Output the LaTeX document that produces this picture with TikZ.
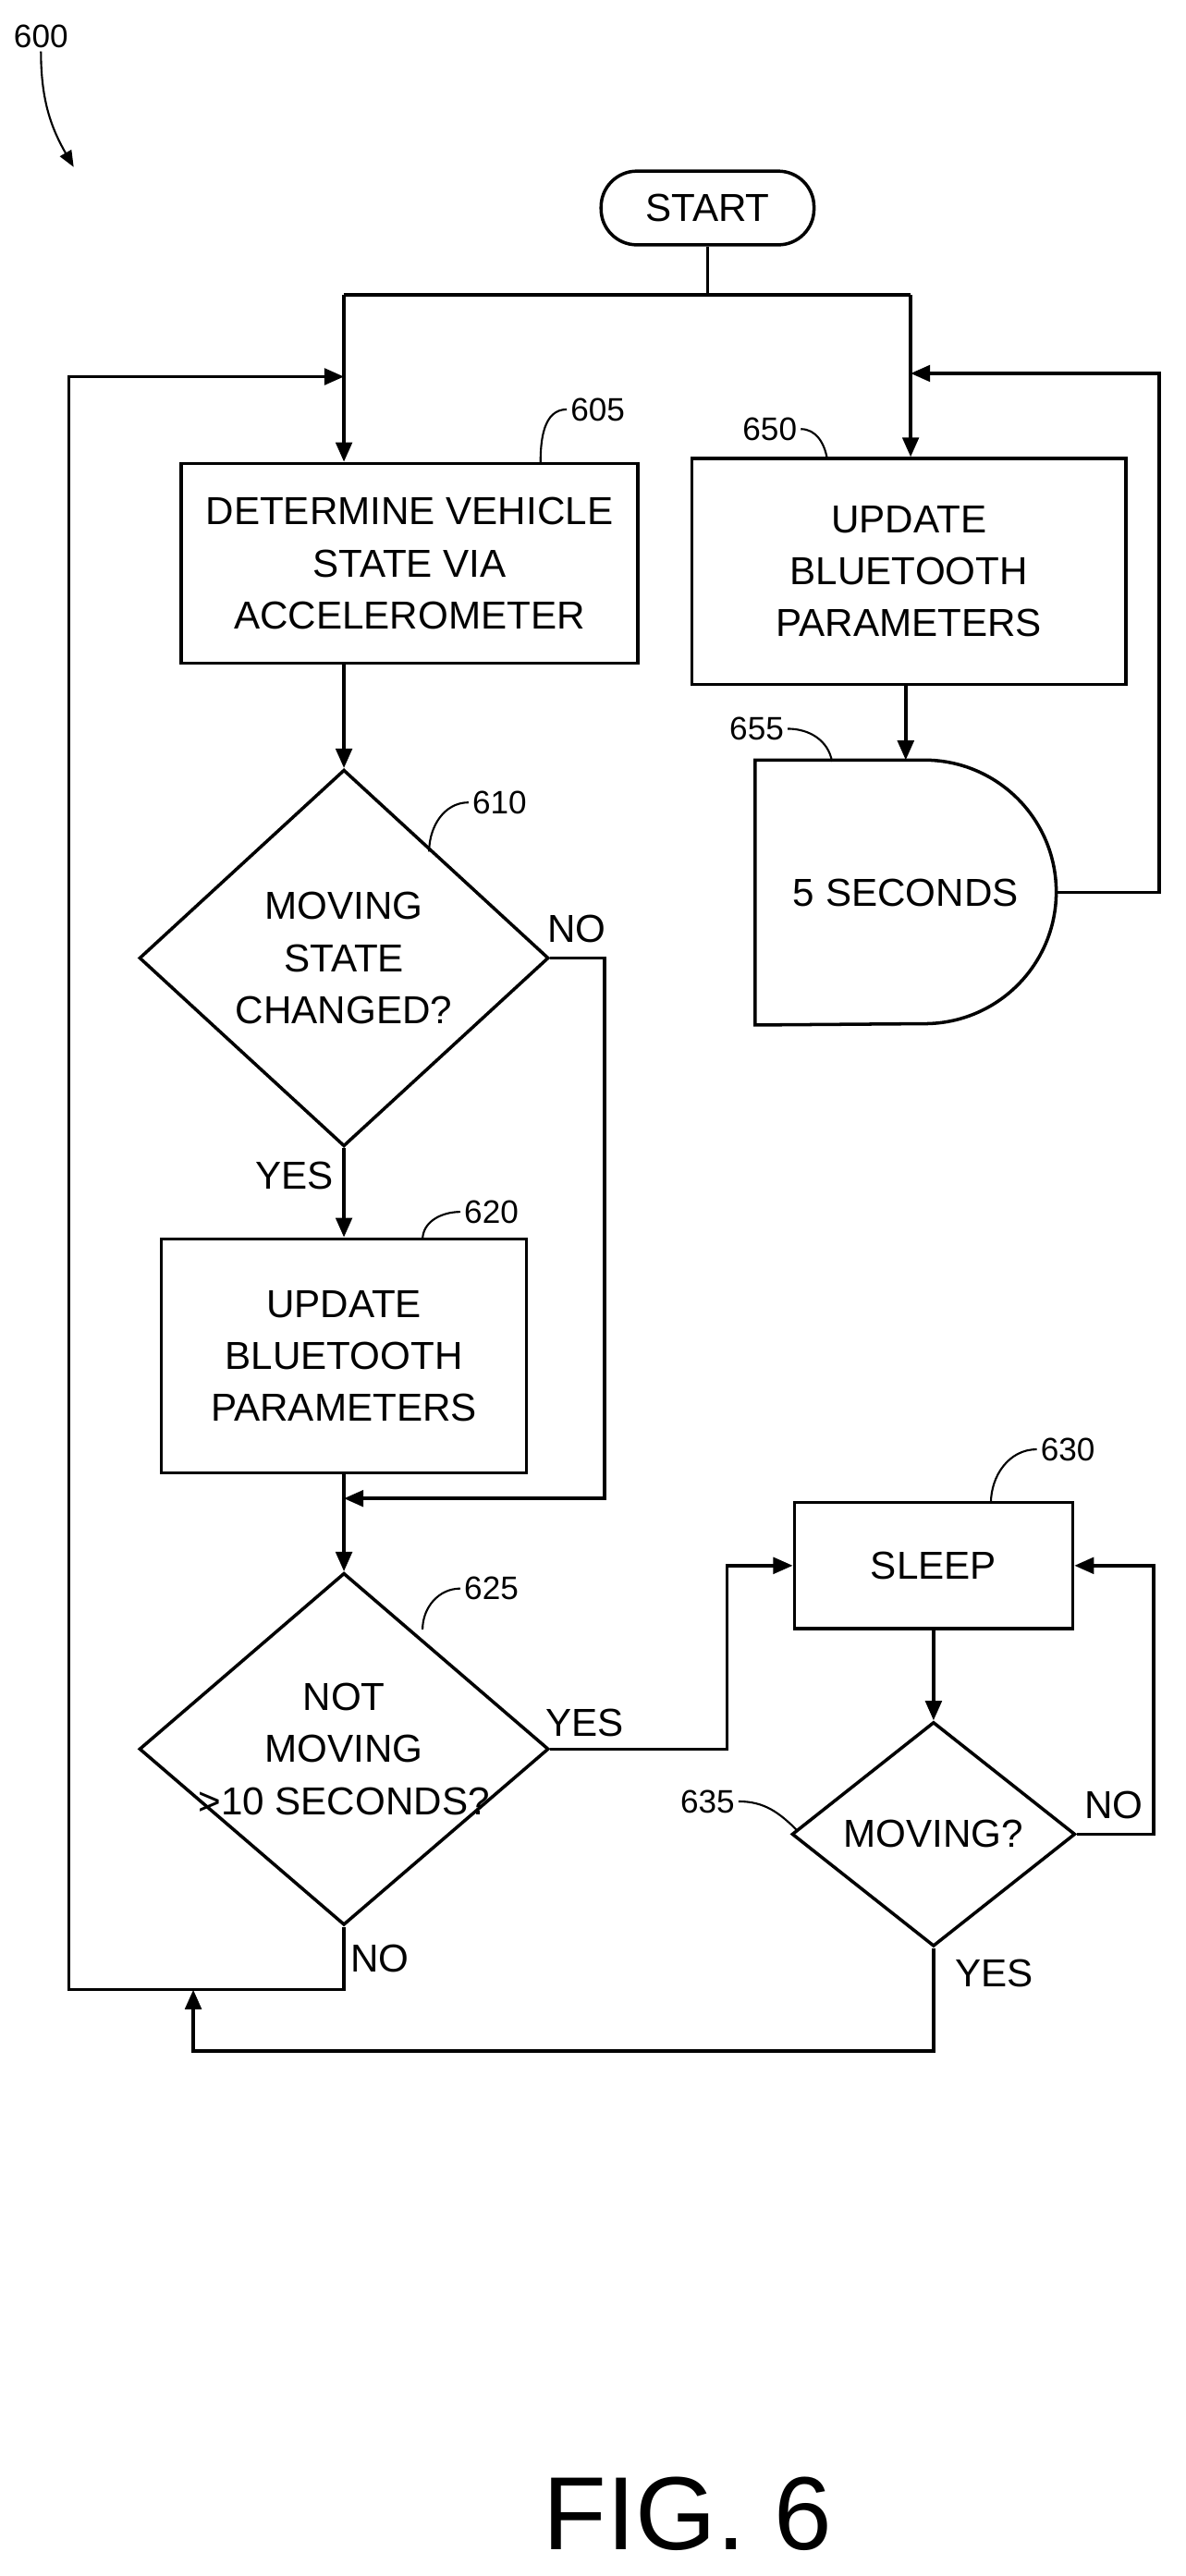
\documentclass[tikz,border=0pt]{standalone}
\usepackage{fontspec}
\setmainfont{Liberation Sans}
\usetikzlibrary{positioning,shapes.geometric,arrows.meta}
\tikzset{
  every node/.style={font=\fontsize{12}{16}\selectfont, align=center},
  box/.style={draw, line width=1pt, inner sep=0pt},
  dia/.style={draw, diamond, line width=1pt, inner sep=0pt},
  flow/.style={line width=1pt},
  arr/.style={flow, -{Triangle[length=6pt,width=5pt]}},
  refnum/.style={font=\fontsize{10}{12}\selectfont, inner sep=1pt},
  tick/.style={line width=0.6pt}
}
\begin{document}
\begin{tikzpicture}[x=0.01772cm, y=-0.01772cm]
  \useasboundingbox (0,0) rectangle (724,1573);

  \node[box, rounded corners=11pt, minimum width=130*0.01772cm, minimum height=45*0.01772cm] (Start) at (432,127) {START};
  \node[box, minimum width=279*0.01772cm, minimum height=122*0.01772cm] (Det) at (250,344)
    {DETERMINE VEHICLE\\STATE VIA\\ACCELEROMETER};
  \node[box, minimum width=265*0.01772cm, minimum height=138*0.01772cm] (UpdR) at (555,349)
    {UPDATE\\BLUETOOTH\\PARAMETERS};
  \node[minimum width=183*0.01772cm, minimum height=161*0.01772cm, inner sep=0pt] (Wait) at (553,545) {5 SECONDS};
  \draw[flow] (Wait.south west) -- (Wait.north west) -- ([xshift=-1.426cm]Wait.north east)
    arc[start angle=90, end angle=-90, radius=1.426cm] -- cycle;
  \node[dia, minimum width=250*0.01772cm, minimum height=230*0.01772cm] (Chg) at (210,585) {};
  \node at (Chg) {MOVING\\STATE\\CHANGED?};
  \node[box, minimum width=223*0.01772cm, minimum height=143*0.01772cm] (UpdL) at (210,828)
    {UPDATE\\BLUETOOTH\\PARAMETERS};
  \node[dia, minimum width=250*0.01772cm, minimum height=215*0.01772cm] (Still) at (210,1068) {};
  \node at (Still) {NOT\\MOVING\\>10 SECONDS?};
  \node[box, minimum width=170*0.01772cm, minimum height=77*0.01772cm] (Sleep) at (570,956) {SLEEP};
  \node[dia, minimum width=173*0.01772cm, minimum height=137*0.01772cm] (Mov) at (570,1120) {};
  \node at (Mov) {MOVING?};

  % junction points
  \coordinate (Split) at (432,180);
  \coordinate (SplitL) at (210,180);
  \coordinate (SplitR) at (556,180);
  \coordinate (InL) at (210,230);
  \coordinate (InR) at (556,228);
  \coordinate (InMid) at (210,915);
  \coordinate (LoopTop) at (42,230);
  \coordinate (LoopBot) at (42,1215);
  \coordinate (LoopIn) at (118,1215);

  \draw[flow] (Start) -- (Split);
  \draw[flow] (SplitL) -- (SplitR);
  \draw[arr] (SplitL) -- (SplitL |- Det.north);
  \draw[arr] (SplitR) -- (SplitR |- UpdR.north);
  \draw[arr] (UpdR.south -| Wait.north) -- (Wait.north);
  \draw[arr] (Wait.east) -- ++(63,0) |- (InR);
  \draw[arr] (Chg.north |- Det.south) -- (Chg.north);
  \draw[arr] (Chg.south) -- (UpdL.north);
  \draw[arr] (Chg.east) -- ++(33,0) |- (InMid);
  \draw[arr] (UpdL.south) -- (Still.north);
  \draw[arr] (Still.east) -- ++(108,0) |- (Sleep.west);
  \draw[arr] (Sleep) -- (Mov);
  \draw[arr] (Mov.east) -- ++(47,0) |- (Sleep.east);
  \draw[arr] (Mov.south) -- ++(0,63) -| (LoopIn);
  \draw[arr] (Still.south) |- (LoopBot) -- (LoopTop) -- (InL);

  % branch labels
  \node at (352,567) {NO};
  \node at (180,718) {YES};
  \node at (357,1052) {YES};
  \node at (232,1196) {NO};
  \node at (680,1102) {NO};
  \node at (607,1205) {YES};

  % reference numbers
  \node[refnum] (R600) at (25,22) {600};
  \draw[tick, -{Triangle[length=5pt,width=4pt]}] (R600.south) to[out=-90,in=120] (45,102);
  \node[refnum] (R605) at (365,250) {605};
  \draw[tick] (330,283) to[out=90,in=180] (R605.west);
  \node[refnum] (R650) at (470,262) {650};
  \draw[tick] (R650.east) to[out=0,in=100] (505,280);
  \node[refnum] (R655) at (462,445) {655};
  \draw[tick] (R655.east) to[out=0,in=100] (508,465);
  \node[refnum] (R610) at (305,490) {610};
  \draw[tick] (262,520) to[out=90,in=180] (R610.west);
  \node[refnum] (R620) at (300,740) {620};
  \draw[tick] (258,757) to[out=90,in=180] (R620.west);
  \node[refnum] (R625) at (300,970) {625};
  \draw[tick] (258,995) to[out=90,in=180] (R625.west);
  \node[refnum] (R630) at (652,885) {630};
  \draw[tick] (605,918) to[out=90,in=180] (R630.west);
  \node[refnum] (R635) at (432,1100) {635};
  \draw[tick] (R635.east) to[out=0,in=135] (487,1118);

  \node[font=\fontsize{32}{36}\selectfont] (Fig) at (420,1535) {FIG. 6};
\end{tikzpicture}
\end{document}
